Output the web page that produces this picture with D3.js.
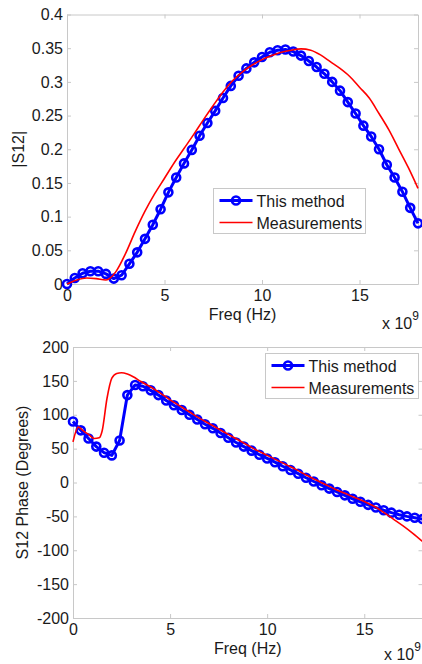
<!DOCTYPE html>
<html>
<head>
<meta charset="utf-8">
<script src="https://cdn.jsdelivr.net/npm/d3@7"></script>
<style>
  body { margin: 0; background: #fff; }
  svg text { font-family: "Liberation Sans", Arial, sans-serif; fill: #1a1a1a; }
</style>
</head>
<body>
<div id="graph"></div>
<script>
//frecuencias (x 10^9 Hz) de los marcadores de "This method"
var freqMethod = [0, 0.4, 0.8, 1.2, 1.6, 2.0, 2.4, 2.8, 3.2, 3.6, 4.0, 4.4, 4.8, 5.2, 5.6,
  6.0, 6.4, 6.8, 7.2, 7.6, 8.0, 8.4, 8.8, 9.2, 9.6, 10.0, 10.4, 10.8, 11.2, 11.6, 12.0,
  12.4, 12.8, 13.2, 13.6, 14.0, 14.4, 14.8, 15.2, 15.6, 16.0, 16.4, 16.8, 17.2, 17.6, 18.0];
//|S12| calculado
var magMethod = [0, 0.009, 0.016, 0.019, 0.019, 0.015, 0.008, 0.013, 0.030, 0.047, 0.067,
  0.088, 0.111, 0.136, 0.158, 0.179, 0.199, 0.220, 0.239, 0.257, 0.276, 0.294, 0.309,
  0.320, 0.329, 0.337, 0.344, 0.347, 0.348, 0.345, 0.339, 0.331, 0.322, 0.312, 0.300,
  0.287, 0.270, 0.253, 0.235, 0.219, 0.200, 0.177, 0.158, 0.137, 0.113, 0.090];
//fase S12 calculada (grados)
var phaseMethod = [90, 77, 65, 53, 44, 40, 62, 129, 144, 142, 136, 129, 121, 114, 107,
  100, 93, 86, 80, 73, 66, 59, 53, 47, 41, 35.5, 30, 24, 18.5, 13, 7, 1.5, -4, -9, -14,
  -19, -24, -28.5, -33, -37, -41, -44.5, -47.5, -50, -52, -54];

//mediciones |S12|
var freqMagMeas = [0, 0.5, 1.0, 1.5, 2.0, 2.5, 3.0, 3.5, 4.0, 4.5, 5.0, 5.5, 6.0, 6.5, 7.0,
  7.5, 8.0, 8.5, 9.0, 9.5, 10.0, 10.5, 11.0, 11.5, 12.0, 12.5, 13.0, 13.5, 14.0, 14.5,
  15.0, 15.5, 16.0, 16.5, 17.0, 17.5, 18.0];
var magMeas = [0, 0.006, 0.009, 0.008, 0.006, 0.018, 0.045, 0.078, 0.108, 0.134, 0.157,
  0.180, 0.201, 0.222, 0.244, 0.265, 0.285, 0.302, 0.315, 0.325, 0.333, 0.339, 0.344,
  0.347, 0.349, 0.347, 0.340, 0.330, 0.320, 0.308, 0.292, 0.276, 0.253, 0.229, 0.201,
  0.173, 0.142];

//mediciones fase
var freqPhaseMeas = [0, 0.27, 0.5, 0.8, 1.1, 1.35, 1.5, 1.75, 2.0, 2.25, 2.5, 2.8, 3.1,
  3.5, 4.0, 4.5, 5.0, 5.5, 6.0, 6.5, 7.0, 7.5, 8.0, 8.5, 9.0, 9.5, 10.0, 10.5, 11.0, 11.5,
  12.0, 12.5, 13.0, 13.5, 14.0, 14.5, 15.0, 15.5, 16.0, 16.5, 17.0, 17.5, 18.0];
var phaseMeas = [60, 82, 77, 71, 65, 66, 76, 124, 154, 161, 162, 160, 156, 149, 141, 132,
  122, 113, 104, 95, 87, 79, 71, 63, 55, 47, 40, 33, 26, 19, 11, 4, -3, -10, -16, -22,
  -28, -35, -44, -54, -64, -75, -87];

//ticks
var freqTicks = [0, 5, 10, 15];
var magTicks = [0, 0.05, 0.1, 0.15, 0.2, 0.25, 0.3, 0.35, 0.4];
var phaseTicks = [-200, -150, -100, -50, 0, 50, 100, 150, 200];
var seriesNames = ["This method", "Measurements"];

var chartWidth = 422;
var chartHeight = 664;
var blue = "#0000ff";
var red = "#ff0000";
var boxColor = "#c8c8c8";

var svgContainer = d3
  .select("#graph")
  .append("svg")
  .attr("width", chartWidth)
  .attr("height", chartHeight);

function styleAxis(g) {
  g.selectAll("path.domain, line").attr("stroke", boxColor).attr("stroke-width", 1);
  g.selectAll("text").attr("font-size", 16).attr("font-family", null);
}

//dibuja un panel completo
function drawPanel(p) {
  var xScale = d3.scaleLinear().domain([0, 18]).range([p.left, p.right]);
  var yScale = d3.scaleLinear().domain(p.yDomain).range([p.bottom, p.top]);

  var fmt = function (d) { return String(+d.toFixed(2)); };

  svgContainer.append("g")
    .attr("transform", "translate(0," + p.bottom + ")")
    .call(d3.axisBottom(xScale).tickValues(freqTicks).tickSizeInner(-4).tickSizeOuter(0).tickPadding(6))
    .call(styleAxis);
  svgContainer.append("g")
    .attr("transform", "translate(0," + p.top + ")")
    .call(d3.axisTop(xScale).tickValues(freqTicks).tickSizeInner(-4).tickSizeOuter(0).tickFormat(""))
    .call(styleAxis);
  svgContainer.append("g")
    .attr("transform", "translate(" + p.left + ",0)")
    .call(d3.axisLeft(yScale).tickValues(p.yTicks).tickSizeInner(-4).tickSizeOuter(0).tickPadding(4).tickFormat(fmt))
    .call(styleAxis);
  svgContainer.append("g")
    .attr("transform", "translate(" + p.right + ",0)")
    .call(d3.axisRight(yScale).tickValues(p.yTicks).tickSizeInner(-4).tickSizeOuter(0).tickFormat(""))
    .call(styleAxis);

  //serie calculada: linea + circulos
  var methodData = freqMethod.map(function (f, i) { return [f, p.method[i]]; });
  var measData = p.measFreq.map(function (f, i) { return [f, p.meas[i]]; });

  var line = d3.line()
    .x(function (d) { return xScale(d[0]); })
    .y(function (d) { return yScale(d[1]); });

  svgContainer.append("path")
    .datum(methodData)
    .attr("d", line)
    .attr("fill", "none")
    .attr("stroke", blue)
    .attr("stroke-width", 3)
    .attr("stroke-linejoin", "round");

  svgContainer.append("g")
    .selectAll("circle")
    .data(methodData)
    .enter()
    .append("circle")
    .attr("cx", function (d) { return xScale(d[0]); })
    .attr("cy", function (d) { return yScale(d[1]); })
    .attr("r", 4)
    .attr("fill", "none")
    .attr("stroke", blue)
    .attr("stroke-width", 2.6);

  svgContainer.append("path")
    .datum(measData)
    .attr("d", line.curve(d3.curveMonotoneX))
    .attr("fill", "none")
    .attr("stroke", red)
    .attr("stroke-width", 1.6);

  //etiquetas
  var cx = (p.left + p.right) / 2;
  svgContainer.append("text")
    .attr("x", cx)
    .attr("y", p.freqLabelY)
    .attr("text-anchor", "middle")
    .attr("font-size", 16)
    .text("Freq (Hz)");

  var exp = svgContainer.append("text")
    .attr("x", p.expX)
    .attr("y", p.expY)
    .attr("font-size", 16);
  exp.append("tspan").text("x 10");
  exp.append("tspan").attr("dy", -9).attr("font-size", 12).text("9");

  svgContainer.append("text")
    .attr("transform", "translate(" + p.yLabelX + "," + (p.top + p.bottom) / 2 + ") rotate(-90)")
    .attr("text-anchor", "middle")
    .attr("font-size", 16)
    .text(p.yLabel);

  //leyenda
  var lg = svgContainer.append("g").attr("transform", "translate(" + p.legX + "," + p.legY + ")");
  lg.append("rect")
    .attr("width", p.legW)
    .attr("height", 45)
    .attr("fill", "#fff")
    .attr("stroke", boxColor);
  lg.append("line").attr("x1", 6).attr("x2", 39).attr("y1", 12).attr("y2", 12)
    .attr("stroke", blue).attr("stroke-width", 3);
  lg.append("circle").attr("cx", 22.5).attr("cy", 12).attr("r", 4)
    .attr("fill", "none").attr("stroke", blue).attr("stroke-width", 2.6);
  lg.append("line").attr("x1", 6).attr("x2", 39).attr("y1", 34).attr("y2", 34)
    .attr("stroke", red).attr("stroke-width", 1.6);
  lg.selectAll("text.leg")
    .data(seriesNames)
    .enter()
    .append("text")
    .attr("class", "leg")
    .attr("x", 43)
    .attr("y", function (d, i) { return 18 + i * 22; })
    .attr("font-size", 16)
    .text(function (d) { return d; });
}

drawPanel({
  left: 67, right: 418, top: 14.5, bottom: 284,
  yDomain: [0, 0.4], yTicks: magTicks,
  method: magMethod, measFreq: freqMagMeas, meas: magMeas,
  yLabel: "|S12|", yLabelX: 23.5,
  freqLabelY: 320, expX: 382, expY: 329,
  legX: 213.5, legY: 188.5, legW: 152
});

drawPanel({
  left: 73, right: 422.5, top: 347, bottom: 618,
  yDomain: [-200, 200], yTicks: phaseTicks,
  method: phaseMethod, measFreq: freqPhaseMeas, meas: phaseMeas,
  yLabel: "S12 Phase (Degrees)", yLabelX: 27.5,
  freqLabelY: 654, expX: 384, expY: 660,
  legX: 265.5, legY: 353.5, legW: 153
});
</script>
</body>
</html>
